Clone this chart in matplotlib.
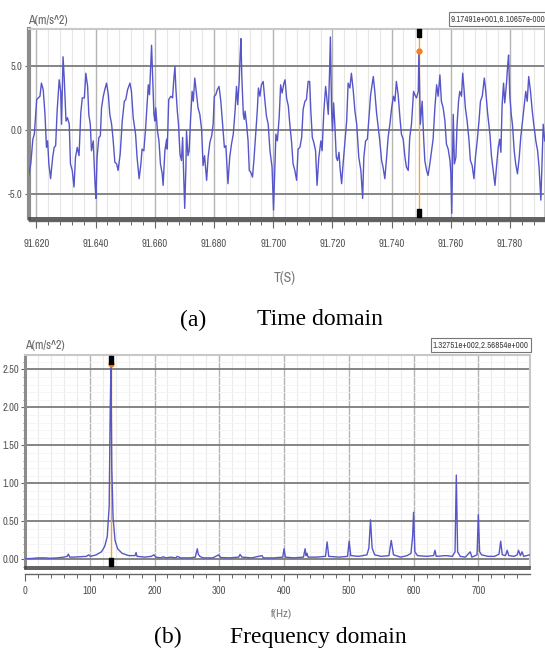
import numpy as np
import matplotlib
matplotlib.use("Agg")
import matplotlib.pyplot as plt
from matplotlib import transforms, font_manager
from matplotlib.ticker import MultipleLocator, FormatStrFormatter

# ---- time domain (vertices), time in ms after 91.600 s
t_ms = [17.2, 18.1, 18.8, 19.3, 20.1, 21.2, 21.7, 22.3, 22.9, 23.4, 23.8, 24.2, 24.8, 25.5, 26.0,
        26.5, 27.0, 27.7, 28.2, 28.5, 29.0, 29.4, 30.0, 30.5, 31.1, 31.5, 32.1, 32.7, 33.2, 33.8,
        34.4, 35.0, 35.5, 36.2, 36.7, 37.3, 37.7, 38.2, 38.6, 39.2, 39.8, 40.1, 40.5, 41.1, 41.6,
        42.0, 42.6, 43.1, 43.7, 44.3, 44.8, 45.4, 45.9, 46.5, 47.1, 47.6, 48.3, 49.0, 49.7, 50.2,
        50.8, 51.6, 52.1, 52.7, 53.5, 54.0, 54.7, 55.3, 55.7, 56.3, 56.9, 57.4, 57.8, 58.2, 58.7,
        58.9, 59.2, 59.7, 60.0, 60.3, 60.9, 61.4, 61.9, 62.5,
        62.8, 63.4, 64.0, 64.2, 64.7, 65.4, 66.0, 66.4, 66.8, 67.1, 67.6, 68.0, 68.5, 69.0, 69.4,
        69.8, 70.1, 70.5, 70.7, 71.2, 71.6, 72.1, 72.6, 73.0, 73.5, 74.0, 74.6, 75.2, 75.8, 76.3,
        76.8, 77.5, 78.0, 78.6, 79.2, 79.7, 80.1, 80.6, 81.1, 81.7, 82.3, 82.9, 83.5, 84.0, 84.7,
        85.3, 85.9, 86.5, 87.1, 87.6, 88.0, 88.5, 88.8, 89.1, 89.4, 89.9, 90.2, 90.5, 91.0, 91.5,
        91.9, 92.4, 93.0, 93.5, 94.0, 94.6, 95.0, 95.5, 96.0, 96.6, 97.2, 97.7, 98.3, 98.9, 99.6,
        100.1, 100.5, 100.9, 101.4, 102.0, 102.5, 103.0, 103.6, 104.0, 104.5, 105.1, 105.6, 106.2,
        106.7, 107.3,
        107.9, 108.4, 109.0, 109.6, 110.1, 110.7, 111.2, 111.8, 112.3, 112.7, 113.2, 113.7, 114.3,
        114.8, 115.4, 116.1, 116.5, 117.1, 117.7, 118.1, 118.6, 119.0, 119.3, 119.7, 120.0, 120.4,
        120.8, 121.3, 121.7, 122.2, 122.6, 123.1, 123.6, 124.2, 124.8, 125.3, 125.9, 126.4, 127.0,
        127.6, 128.2, 128.9, 129.6, 130.2, 130.6, 131.2, 131.8, 132.3, 132.9, 133.4, 133.8, 134.3,
        134.9, 135.5, 136.0, 136.6, 137.1, 137.7, 138.3, 138.8, 139.4, 140.0, 140.6, 141.1, 141.6,
        142.2, 142.8, 143.3, 143.9, 144.5, 145.0, 145.6, 146.1, 146.7, 147.4, 147.8, 148.4, 149.0,
        149.2, 149.7, 150.3, 150.8, 151.2, 151.8, 152.3, 152.9, 153.5, 154.0,
        154.6, 155.2, 155.7, 156.3, 156.8, 157.4, 158.0, 158.5, 159.1, 159.7, 160.0, 160.3, 160.8,
        161.2, 161.7, 162.1, 162.6, 163.0, 163.6, 164.0, 164.5, 164.9, 165.5, 166.1, 166.6, 167.2,
        167.8, 168.3, 168.9, 169.5, 170.0, 170.6, 171.3, 171.8, 172.4, 173.2, 173.7, 174.3, 174.9,
        175.4, 176.0, 176.5, 176.9, 177.3, 177.8, 178.2, 178.8, 179.2, 179.5, 179.9, 180.4, 180.8,
        181.4, 181.9, 182.5, 183.1, 183.6, 184.2, 184.8, 185.3, 185.8, 186.3, 186.9, 187.5, 188.0,
        188.7, 189.3, 189.8, 190.4, 190.7, 191.2, 191.7]
acc = [-3.79, -2.64, -0.72, -0.33, 2.36, 2.62, 3.64, 3.13, 1.21, -1.36, -0.85, -2.64, -3.79, -2.13, -1.36,
       -1.23, 1.46, 3.90, 3.00, 0.44, 5.69, 4.03, 0.69, 0.95, 0.44, -2.64, -3.15, -4.44, -2.13, -1.36,
       -2.00, 1.33, 2.49, 2.49, 4.41, 3.38, 1.21, 0.44, -1.62, -0.85, -4.18, -5.33, -2.13, -0.59, -0.46,
       1.72, 2.62, 3.13, 3.64, 2.74, 1.21, 0.44, -0.72, -2.51, -2.64, -3.15, -1.87, 0.69, 2.23, 2.36,
       3.13, 3.64, 3.00, 0.95, -0.33, -2.13, -3.79, -2.64, -1.49, -1.62, 0.18, 1.97, 3.51, 2.74, 5.56,
       6.59, 4.54, 1.21, 0.69, 1.72, -0.08, -0.85, -2.64, -3.41,
       -4.31, -1.62, -0.72, -1.49, 2.36, 2.62, 2.49, 3.90, 4.92, 3.26, 1.46, 0.44, -1.87, -2.38, -0.59,
       -3.92, -6.10, -2.90, -0.08, -2.00, -1.62, 0.95, 3.00, 2.23, 4.03, 3.00, 1.72, 1.21, 0.05, -2.77,
       -2.00, -3.92, -2.13, -0.97, -0.46, 0.44, 2.62, 2.74, 3.13, 3.38, 2.23, 0.44, -1.36, -1.23, -4.18,
       -2.13, -1.10, -0.33, 1.46, 3.38, 1.97, 3.77, 5.69, 7.10, 4.03, 1.21, 0.82, 1.46, 0.44, -0.85,
       -3.15, -3.28, -3.67, -2.26, -0.59, 1.46, 3.26, 2.62, 3.51, 3.77, 2.23, 1.08, 0.44, -1.62, -2.90,
       -6.23, -3.15, -0.33, -0.85, 0.95, 3.51, 2.87, 3.64, 3.90, 2.49, 1.85, 0.44, -0.97,
       -2.64, -3.15,
       -3.92, -1.49, -1.36, -0.59, 1.59, 2.23, 2.36, 3.77, 3.77, 1.46, -0.59, -0.97, -1.62,
       -4.31, -2.13, -0.85, -1.62, 1.46, 3.38, 2.49, 1.21, 4.28, 7.23, 1.72, -0.08, 2.10,
       0.44, -2.13, -2.38, -1.74, -3.03, -4.18, -2.64, -0.97, 0.69, 3.64, 3.26, 4.41, 3.13,
       1.46, 0.44, -2.13, -3.15, -5.33, -2.13, -0.85, -0.72, 0.82, 2.74, 3.51, 4.15, 3.00,
       1.33, 0.18, -0.85, -2.38, -2.90, -3.79, -2.13, -0.59, 0.44, 1.72, 2.62, 2.23, 3.77,
       2.74, 0.95, -0.33, -0.72, -2.13, -2.90, -3.15, -0.59, 0.44, 3.00, 2.74, 2.49, 3.00,
       6.11, 0.44, 2.23, -0.59, -2.38, -3.15, -3.54, -2.64, -1.62, -0.72,
       1.72, 3.51, 2.62, 4.28, 2.23, 1.72, 0.69, -1.10, -1.49, -2.38, -3.41, -6.49, 1.21,
       -2.64, -2.13, 0.44, 2.23, 3.00, 2.62, 4.41, 3.00, 1.72, 0.69, -0.72, -2.38, -2.77,
       -3.79, -2.13, -0.85, 0.69, 2.23, 2.62, 4.03, 3.00, 1.33, -0.33, -2.00, -3.15, -4.31,
       -2.90, -1.36, -0.72, -1.74, 1.85, 3.64, 2.10, 3.64, 5.05, 5.82, 2.74, 1.21, 0.44,
       -1.62, -2.64, -3.41, -2.13, -0.59, 0.69, 1.97, 3.00, 2.23, 4.15, 3.00, 1.46, 0.44,
       -0.85, -1.62, -2.90, -5.46, -3.15, 0.44, -0.85]
time_ticks = [91.62, 91.64, 91.66, 91.68, 91.70, 91.72, 91.74, 91.76, 91.78]
acc_ticks = [-5.0, 0.0, 5.0]
cursor_t = 91.74917
cursor_acc = 6.10657

# ---- frequency domain (vertices)
freq = [0, 10, 20, 30, 40, 50, 60, 65, 67, 69, 75, 85, 95, 98, 101, 110, 118, 123, 127, 130,
        131.5, 132.75, 134, 136, 139, 143, 150, 160, 170, 171.5, 173, 185, 195, 199, 202, 210,
        213, 218, 225, 233, 235, 240, 255, 263, 266, 267.5, 270, 275, 290, 299, 302, 315, 330,
        332, 335, 350, 366, 368, 385, 398, 400, 402, 415, 430, 432.5, 434, 435.5, 437, 450, 464,
        466.5, 469, 485, 498, 500.5, 503, 515, 528, 531, 533.5, 536, 540, 550, 562, 565.5, 569,
        580, 590, 596, 598.5, 600, 602, 606, 620, 631, 633, 635, 650, 660, 664, 666, 668, 672,
        680, 687.5, 690, 698, 700, 702, 705, 715, 725, 732, 734.5, 737, 742, 744.5, 747, 755,
        760, 762, 765, 767.5, 770, 779]
amp = [0.01, 0.012, 0.02, 0.02, 0.015, 0.02, 0.03, 0.04, 0.07, 0.03, 0.03, 0.035, 0.04, 0.06, 0.04,
       0.06, 0.10, 0.17, 0.30, 0.70, 1.93, 2.57, 1.20, 0.55, 0.25, 0.14, 0.08, 0.05, 0.05, 0.09,
       0.04, 0.03, 0.04, 0.06, 0.03, 0.02, 0.035, 0.02, 0.03, 0.02, 0.04, 0.02, 0.02, 0.03, 0.14,
       0.07, 0.04, 0.02, 0.02, 0.06, 0.025, 0.02, 0.03, 0.065, 0.03, 0.02, 0.05, 0.02, 0.02, 0.03,
       0.14, 0.03, 0.02, 0.03, 0.14, 0.05, 0.08, 0.03, 0.03, 0.04, 0.23, 0.04, 0.03, 0.04, 0.24,
       0.05, 0.04, 0.06, 0.15, 0.52, 0.15, 0.06, 0.04, 0.05, 0.25, 0.06, 0.03, 0.05, 0.08, 0.30,
       0.62, 0.10, 0.05, 0.04, 0.05, 0.12, 0.04, 0.05, 0.04, 0.10, 1.11, 0.10, 0.04, 0.03, 0.10,
       0.03, 0.06, 0.59, 0.10, 0.06, 0.04, 0.04, 0.07, 0.24, 0.06, 0.05, 0.12, 0.05, 0.04, 0.06,
       0.12, 0.05, 0.10, 0.04, 0.06]
freq_ticks = [0, 100, 200, 300, 400, 500, 600, 700]
amp_ticks = [0.0, 0.5, 1.0, 1.5, 2.0, 2.5]
cursor_f = 132.751
cursor_amp = 2.56854

W, H = 545, 651
SERIF = ['Liberation Serif', 'DejaVu Serif']
LINE = '#5656c8'
ORANGE = '#f2a43a'

# the instrument software uses a tall narrow face; take a condensed one if there is one
_names = sorted({f.name for f in font_manager.fontManager.ttflist})
_narrow = [n for n in _names if 'Narrow' in n or 'Condensed' in n]
NARROW = (_narrow[:1] or ['Liberation Sans']) + ['DejaVu Sans']
TICK_FS = 7.6 if _narrow else 6.2


def box(l, t, r, b):
    # pixel box -> figure fraction rect
    return [l / W, 1 - b / H, (r - l) / W, (b - t) / H]


def style_axes(ax, gap_px, thick_left, xpad):
    ax.set_facecolor('white')
    for s in ('top', 'right'):
        ax.spines[s].set_color('#c8c8c8')
        ax.spines[s].set_linewidth(1.5)
    ax.spines['left'].set_color('#8c8c8c')
    ax.spines['left'].set_linewidth(thick_left)
    ax.spines['bottom'].set_position(('outward', gap_px * 72 / 100))
    ax.spines['bottom'].set_color('#666666')
    ax.spines['bottom'].set_linewidth(1.0)
    # double line at the bottom of the plot area
    ax.plot([0, 1], [0, 0], transform=ax.transAxes, color='#444444', lw=1.2, clip_on=False, zorder=5)
    off = transforms.offset_copy(ax.transAxes, fig=ax.figure, y=-2.2, units='dots')
    ax.plot([0, 1], [0, 0], transform=off, color='#444444', lw=1.2, clip_on=False, zorder=5)
    ax.tick_params(which='both', labelsize=TICK_FS, labelcolor='#555555', color='#666666')
    ax.tick_params(axis='x', which='major', direction='out', length=5, width=0.8, pad=xpad)
    ax.tick_params(axis='x', which='minor', direction='out', length=3, width=0.7)
    ax.tick_params(axis='y', which='major', direction='out', length=3, width=0.8, pad=1.5)
    ax.tick_params(axis='y', which='minor', direction='out', length=1.5, width=0.6)
    for lab in ax.get_xticklabels() + ax.get_yticklabels():
        lab.set_family(NARROW)
    ax.set_axisbelow(True)


def cursor(ax, x, y):
    ax.axvline(x, color=ORANGE, lw=1.0, zorder=3)
    ax.plot([x], [y], 'o', color='#f08020', ms=3.5, zorder=6)
    bt = transforms.blended_transform_factory(ax.transData, ax.transAxes)
    rect = [(-1, -2), (1, -2), (1, 2), (-1, 2), (-1, -2)]
    ax.plot([x, x], [0.978, 0.025], ls='none', marker=rect, ms=6, color='black',
            transform=bt, clip_on=False, zorder=7)


fig = plt.figure(figsize=(W / 100, H / 100), dpi=100)

# ---------------- time domain
ax1 = fig.add_axes(box(29, 29, 545, 218))
t = 91.6 + np.array(t_ms) / 1000.0
ax1.plot(t, acc, color=LINE, lw=1.0, zorder=4)
ax1.set_xlim(91.6175, 91.7918)
ax1.set_ylim(-6.85, 7.85)
ax1.set_xticks(time_ticks)
ax1.xaxis.set_minor_locator(MultipleLocator(0.004))
ax1.set_yticks(acc_ticks)
ax1.yaxis.set_minor_locator(MultipleLocator(1.0))
ax1.xaxis.set_major_formatter(FormatStrFormatter('%.3f'))
ax1.yaxis.set_major_formatter(FormatStrFormatter('%.1f'))
ax1.grid(which='major', axis='x', color='#b4b4b4', lw=1.0)
ax1.grid(which='minor', axis='x', color='#e6e6e6', lw=0.8)
ax1.grid(which='major', axis='y', color='#7c7c7c', lw=1.3)
style_axes(ax1, 3, 3.0, 8)
cursor(ax1, cursor_t, cursor_acc)

fig.text(28 / W, 1 - 20 / H, 'A(m/s^2)', family=NARROW, fontsize=8.8, color='#666666',
         ha='left', va='center')
fig.text(451 / W, 1 - 19 / H, '9.17491e+001,6.10657e-000', family=NARROW, fontsize=6.4,
         color='#444444', ha='left', va='center',
         bbox=dict(boxstyle='square,pad=0.25', fc='white', ec='#777777', lw=0.8))
fig.text(285 / W, 1 - 278 / H, 'T(S)', family=NARROW, fontsize=10, color='#777777',
         ha='center', va='center')
fig.text(193 / W, 1 - 320 / H, '(a)', family=SERIF, fontsize=17, ha='center', va='center')
fig.text(257 / W, 1 - 320 / H, 'Time domain', family=SERIF, fontsize=17, ha='left', va='center')

# ---------------- frequency domain
ax2 = fig.add_axes(box(25, 355, 529.5, 567))
ax2.plot(freq, amp, color=LINE, lw=1.0, zorder=4)
ax2.set_xlim(0, 779)
ax2.set_ylim(-0.10, 2.69)
ax2.set_xticks(freq_ticks)
ax2.xaxis.set_minor_locator(MultipleLocator(20))
ax2.set_yticks(amp_ticks)
ax2.yaxis.set_minor_locator(MultipleLocator(0.1))
ax2.xaxis.set_major_formatter(FormatStrFormatter('%d'))
ax2.yaxis.set_major_formatter(FormatStrFormatter('%.2f'))
ax2.grid(which='major', axis='x', color='#b4b4b4', lw=1.0)
ax2.grid(which='minor', axis='x', color='#ebebeb', lw=0.8)
ax2.grid(which='major', axis='y', color='#7c7c7c', lw=1.3)
ax2.grid(which='minor', axis='y', color='#f4f4f4', lw=0.6)
style_axes(ax2, 7, 2.2, 4)
cursor(ax2, cursor_f, cursor_amp)

fig.text(25 / W, 1 - 346 / H, 'A(m/s^2)', family=NARROW, fontsize=8.8, color='#666666',
         ha='left', va='center')
fig.text(481 / W, 1 - 345 / H, '1.32751e+002,2.56854e+000', family=NARROW, fontsize=6.4,
         color='#444444', ha='center', va='center',
         bbox=dict(boxstyle='square,pad=0.25', fc='white', ec='#777777', lw=0.8))
fig.text(281 / W, 1 - 614 / H, 'f(Hz)', family=NARROW, fontsize=8.5, color='#777777',
         ha='center', va='center')
fig.text(168 / W, 1 - 637 / H, '(b)', family=SERIF, fontsize=17, ha='center', va='center')
fig.text(230 / W, 1 - 637 / H, 'Frequency domain', family=SERIF, fontsize=17, ha='left',
         va='center')

fig.savefig('out.png', dpi=100)
